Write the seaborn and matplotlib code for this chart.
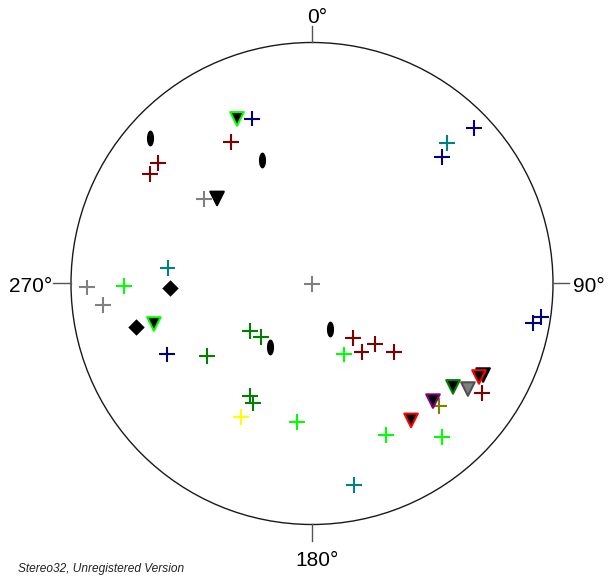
import numpy as np
import pandas as pd
import matplotlib
matplotlib.use("Agg")
import matplotlib.pyplot as plt
from matplotlib.path import Path
from matplotlib.patches import Circle
import seaborn as sns

# Projected positions on the unit net (east, north)
cross_x = [-0.249, 0.672, 0.539, -0.602, 0.917, 0.950,
           0.560, -0.598, 0.174,
           -0.639, -0.672, -0.336, 0.170, 0.207, 0.261, 0.340, 0.705,
           -0.934, -0.867, -0.448, 0.000,
           -0.780, 0.133, 0.307, 0.539, -0.062,
           -0.257, -0.212, -0.436, -0.257, -0.245,
           -0.295, 0.527]
cross_y = [0.683, 0.645, 0.525, -0.293, -0.164, -0.139,
           0.583, 0.064, -0.836,
           0.500, 0.454, 0.587, -0.226, -0.284, -0.251, -0.284, -0.454,
           -0.015, -0.089, 0.351, -0.002,
           -0.010, -0.293, -0.629, -0.637, -0.575,
           -0.197, -0.222, -0.301, -0.467, -0.496,
           -0.554, -0.508]
cross_set = (["navy"] * 6 + ["teal"] * 3 + ["darkred"] * 8 + ["gray"] * 4
             + ["lime"] * 5 + ["green"] * 5 + ["yellow", "olive"])

tri_x = [-0.311, -0.394, -0.656, 0.502, 0.411, 0.585, 0.647, 0.710, 0.693]
tri_y = [0.683, 0.353, -0.168, -0.488, -0.568, -0.429, -0.438, -0.380, -0.388]
tri_face = ["black", "black", "black", "black", "black", "black", "gray", "black", "black"]
tri_edge = ["lime", "black", "lime", "purple", "red", "green", "dimgray", "black", "red"]

diamond_x = [-0.589, -0.730]
diamond_y = [-0.019, -0.180]

ellipse_x = [-0.672, -0.207, -0.174, 0.075]
ellipse_y = [0.604, 0.512, -0.263, -0.189]

direction_labels = ["0°", "90°", "180°", "270°"]

palette = {
    "navy": "#000080", "teal": "#008080", "darkred": "#800000",
    "gray": "#808080", "lime": "#00ff00", "green": "#008000",
    "yellow": "#ffff00", "olive": "#808000", "purple": "#800080",
    "red": "#ff0000", "black": "#000000", "dimgray": "#505050",
}

fig = plt.figure(figsize=(6.14, 5.76), dpi=100)
ax = fig.add_axes([0, 0, 1, 1])
ax.set_xlim(-1.2946, 1.2531)
ax.set_ylim(-1.2137, 1.1763)
ax.axis("off")

# Primitive circle and cardinal ticks
ax.add_patch(Circle((0, 0), 1.0, fill=False, edgecolor="#1a1a1a", linewidth=1.0, zorder=1))
tick = 0.068
ax.plot([0, 0], [1, 1 + tick], color="#555555", lw=1.0)
ax.plot([0, 0], [-1, -1 - tick], color="#555555", lw=1.0)
ax.plot([1, 1 + tick], [0, 0], color="#555555", lw=1.0)
ax.plot([-1, -1 - tick - 0.006], [0, 0], color="#555555", lw=1.0)

fs = 15
ax.text(0.02, 1.081, direction_labels[0], ha="center", va="baseline", fontsize=fs,
        family="Liberation Sans")
ax.text(1.083, -0.035, direction_labels[1], ha="left", va="baseline", fontsize=fs,
        family="Liberation Sans")
ax.text(0.02, -1.172, direction_labels[2], ha="center", va="baseline", fontsize=fs,
        family="Liberation Sans")
ax.text(-1.077, -0.035, direction_labels[3], ha="right", va="baseline", fontsize=fs,
        family="Liberation Sans")

ax.text(-1.22, -1.197, "Stereo32, Unregistered Version", ha="left", va="baseline",
        fontsize=8.6, style="italic", family="Liberation Sans", color="#222222")

# Lineation crosses
crosses = pd.DataFrame({"x": cross_x, "y": cross_y, "set": cross_set})
sns.scatterplot(data=crosses, x="x", y="y", hue="set", palette=palette,
                marker="+", s=120, linewidth=1.5, legend=False, ax=ax, zorder=3)

# Triangles: black fill with coloured outlines
tris = pd.DataFrame({"x": tri_x, "y": tri_y, "face": tri_face})
sns.scatterplot(data=tris, x="x", y="y", hue="face", palette=palette,
                marker="v", s=95, linewidth=1.5, legend=False, ax=ax, zorder=4)
ax.collections[-1].set_edgecolors([palette[c] for c in tri_edge])

# Diamonds
diamonds = pd.DataFrame({"x": diamond_x, "y": diamond_y})
sns.scatterplot(data=diamonds, x="x", y="y", color="black", marker="D",
                s=70, linewidth=0, legend=False, ax=ax, zorder=4)

# Elongated ellipses
t = np.linspace(0, 2 * np.pi, 40)
ellipse_marker = Path(np.column_stack([0.45 * np.cos(t), np.sin(t)]), closed=True)
ellipses = pd.DataFrame({"x": ellipse_x, "y": ellipse_y})
sns.scatterplot(data=ellipses, x="x", y="y", color="black", marker=ellipse_marker,
                s=130, linewidth=0, legend=False, ax=ax, zorder=4)

ax.set_xlabel("")
ax.set_ylabel("")
fig.savefig("out.png", dpi=100)
